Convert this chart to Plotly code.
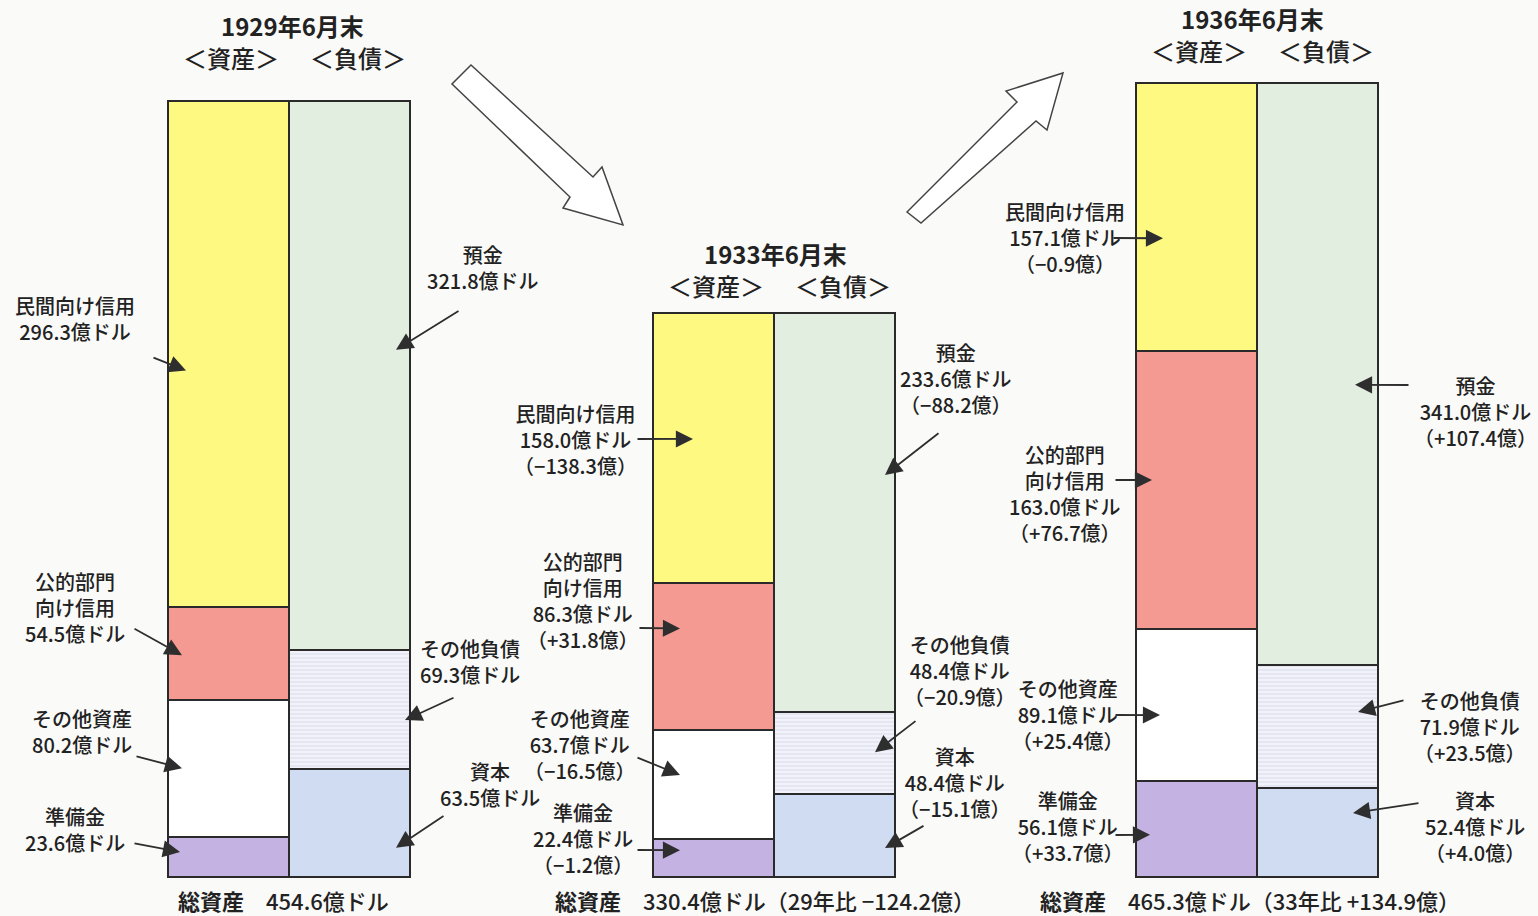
import plotly.graph_objects as go

# ---------------- data (億ドル) ----------------
years = ["1929年6月末", "1933年6月末", "1936年6月末"]
year_short = ["29年", "33年", "36年"]
# assets, stacked bottom -> top
reserves = [23.6, 22.4, 56.1]           # 準備金
other_assets = [80.2, 63.7, 89.1]       # その他資産
public_credit = [54.5, 86.3, 163.0]     # 公的部門向け信用
private_credit = [296.3, 158.0, 157.1]  # 民間向け信用
# liabilities, stacked bottom -> top
capital = [63.5, 48.4, 52.4]            # 資本
other_liab = [69.3, 48.4, 71.9]         # その他負債
deposits = [321.8, 233.6, 341.0]        # 預金
total_assets = [454.6, 330.4, 465.3]    # 総資産

# ---------------- layout helpers ----------------
W, H = 1538, 916
Y0_PX = 877.0
PX_PER = 1.707


def v(py):
    return (Y0_PX - py) / PX_PER


FONT = "Noto Sans CJK JP, Noto Sans, sans-serif"
TXT = "#222222"
asset_left = [168, 653, 1136]
bar_w = 121
asset_x = [l + bar_w / 2 for l in asset_left]
liab_x = [l + bar_w * 1.5 for l in asset_left]

OUT = "#2a2a2a"
asset_series = [
    ("reserve", "準備金", reserves, dict(color="#c4b2e2")),
    ("other_a", "その他資産", other_assets, dict(color="#ffffff")),
    ("public", "公的部門<br>向け信用", public_credit, dict(color="#f49a93")),
    ("private", "民間向け信用", private_credit, dict(color="#fdf981")),
]
liab_series = [
    ("capital", "資本", capital, dict(color="#cfdcf1")),
    ("other_l", "その他負債", other_liab,
     dict(color="#f2f3fa", pattern=dict(shape="-", fgcolor="#c3c9df", bgcolor="#f2f3fa", size=4, solidity=0.3))),
    ("deposit", "預金", deposits, dict(color="#e2eee0")),
]

fig = go.Figure()
seg = {}  # key -> (bases, vals, name)


def add_stack(series, xs):
    bases = [0.0] * len(xs)
    for key, name, vals, mk in series:
        mk = dict(mk)
        mk["line"] = dict(color=OUT, width=2)
        fig.add_trace(go.Bar(x=xs, y=vals, base=list(bases), width=bar_w,
                             marker=mk, name=name.replace("<br>", ""),
                             hoverinfo="skip", showlegend=False))
        seg[key] = (list(bases), vals, name)
        bases = [b + x for b, x in zip(bases, vals)]


add_stack(asset_series, asset_x)
add_stack(liab_series, liab_x)


def chg(d):
    return f"{d:+.1f}".replace("-", "−")


# label specs: (text center px), (arrow tail px), tip x px, tip fraction in segment
specs = {
    "private": [((75, 318), (152, 357), 186, 0.467), ((575, 439), (636, 439), 693, 0.533), ((1065, 237), (1112, 238), 1163, 0.42)],
    "public": [((75, 607), (133, 628), 182, 0.48), ((583, 600), (638, 628), 680, 0.69), ((1065, 493), (1114, 480), 1152, 0.536)],
    "other_a": [((82, 731), (135, 756), 182, 0.50), ((580, 744), (636, 757), 680, 0.587), ((1068, 714), (1114, 715), 1160, 0.435)],
    "reserve": [((75, 829), (133, 843), 180, 0.62), ((583, 838), (636, 850), 680, 0.70), ((1068, 826), (1114, 835), 1150, 0.44)],
    "deposit": [((483, 267), (460, 310), 396, 0.547), ((956, 378), (940, 432), 885, 0.594), ((1475, 411), (1410, 385), 1355, 0.481)],
    "other_l": [((470, 661), (455, 697), 405, 0.41), ((960, 670), (917, 720), 875, 0.51), ((1470, 726), (1405, 700), 1358, 0.616)],
    "capital": [((490, 784), (445, 815), 396, 0.27), ((955, 782), (925, 825), 885, 0.35), ((1475, 826), (1420, 803), 1353, 0.716)],
}

ann = []
for key, per_year in specs.items():
    bases, vals, name = seg[key]
    for i, ((tx, ty), (ax_, ay_), tipx, frac) in enumerate(per_year):
        text = f"{name}<br>{vals[i]:.1f}億ドル"
        if i > 0:
            text += f"<br>（{chg(vals[i] - vals[i - 1])}億）"
        ann.append(dict(x=tx, y=v(ty), xref="x", yref="y", text=text, showarrow=False,
                        align="center", xanchor="center", yanchor="middle",
                        font=dict(family=FONT, size=20, color=TXT, weight=500)))
        tipy = bases[i] + frac * vals[i]
        ann.append(dict(x=tipx, y=tipy, xref="x", yref="y", ax=ax_, ay=v(ay_), axref="x", ayref="y",
                        text="", showarrow=True, arrowhead=2, arrowsize=1.9, arrowwidth=1.8,
                        arrowcolor="#2e2e2e", standoff=0, startstandoff=0))

# titles
title_pos = [(292, 25), (775, 253), (1252, 18)]
for i, (tx, ty) in enumerate(title_pos):
    ann.append(dict(x=tx, y=v(ty), xref="x", yref="y", text=f"<b>{years[i]}</b>", showarrow=False,
                    font=dict(family=FONT, size=24, color=TXT)))
    ann.append(dict(x=asset_x[i] + 2, y=v(ty + 32), xref="x", yref="y", text="＜資産＞", showarrow=False,
                    font=dict(family=FONT, size=24, color=TXT, weight=500)))
    ann.append(dict(x=liab_x[i] + 8, y=v(ty + 32), xref="x", yref="y", text="＜負債＞", showarrow=False,
                    font=dict(family=FONT, size=24, color=TXT, weight=500)))

# totals
bottom_left = [176, 553, 1038]
for i, lx in enumerate(bottom_left):
    t = f"<b>総資産</b>　{total_assets[i]:.1f}億ドル"
    if i > 0:
        t += f"（{year_short[i - 1]}比 {chg(total_assets[i] - total_assets[i - 1])}億）"
    ann.append(dict(x=lx, y=v(900), xref="x", yref="y", text=t, showarrow=False, xanchor="left",
                    font=dict(family=FONT, size=22, color=TXT, weight=500)))

# big hollow arrows
def path(pts):
    return "M " + " L ".join(f"{x},{v(y)}" for x, y in pts) + " Z"


arrow1 = [(471, 65), (593, 177), (602, 167), (623, 225), (563, 208), (570, 197), (452, 84)]
arrow2 = [(907, 212), (1017, 102), (1006, 91), (1063, 73), (1047, 130), (1036, 121), (921, 223)]
shapes = [dict(type="path", path=path(p), xref="x", yref="y", fillcolor="#ffffff",
               line=dict(color="#444444", width=1.5)) for p in (arrow1, arrow2)]

fig.update_layout(
    width=W, height=H, margin=dict(l=0, r=0, t=0, b=0),
    paper_bgcolor="#fafaf9", plot_bgcolor="#fafaf9",
    barmode="overlay", bargap=0,
    xaxis=dict(range=[0, W], visible=False, fixedrange=True),
    yaxis=dict(range=[v(H), v(0)], visible=False, fixedrange=True),
    annotations=ann, shapes=shapes, showlegend=False,
)

fig.write_html("out.html", config={"displayModeBar": False},
               post_script="document.body.style.margin='0';document.body.style.overflow='hidden';")
